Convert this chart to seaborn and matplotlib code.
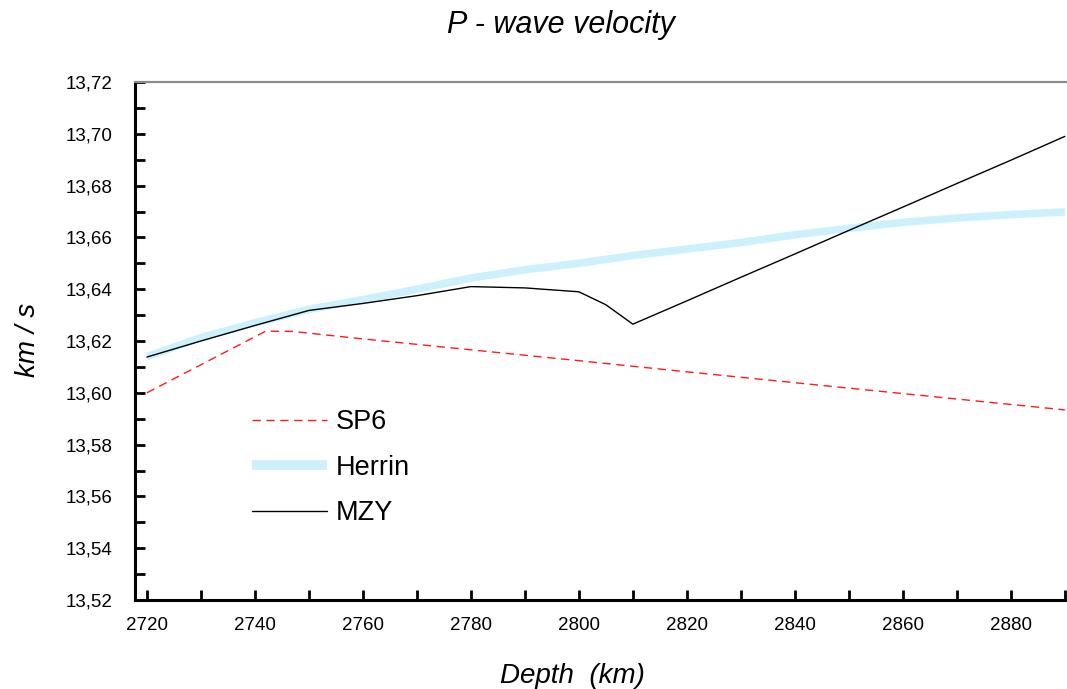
"""P-wave velocity near the core-mantle boundary."""

import matplotlib

matplotlib.use("Agg")

import matplotlib.pyplot as plt
import pandas as pd
import seaborn as sns
from matplotlib.ticker import FuncFormatter, MultipleLocator

# depth (km) and velocity (km/s)
sp6_depth = [2720, 2742, 2747, 2760, 2780, 2800, 2820, 2840, 2860, 2880, 2890]
sp6_vel = [13.600, 13.6238, 13.6237, 13.6208, 13.6166, 13.6124, 13.6081,
           13.6039, 13.5997, 13.5955, 13.5934]

herrin_depth = [2720, 2730, 2740, 2750, 2760, 2770, 2780, 2790, 2800, 2810, 2820,
                2830, 2840, 2850, 2860, 2870, 2880, 2890]
herrin_vel = [13.614, 13.6213, 13.627, 13.6322, 13.636, 13.640, 13.6443, 13.6475,
              13.650, 13.653, 13.6555, 13.658, 13.661, 13.6635, 13.6658, 13.6675,
              13.6688, 13.6698]

mzy_depth = [2720, 2730, 2740, 2750, 2760, 2770, 2780, 2790, 2800, 2805, 2810, 2820,
             2830, 2840, 2850, 2860, 2870, 2880, 2890]
mzy_vel = [13.6138, 13.620, 13.626, 13.6318, 13.6345, 13.6375, 13.641, 13.6405,
           13.639, 13.634, 13.6265, 13.6355, 13.6446, 13.6536, 13.6627, 13.6717,
           13.6808, 13.6898, 13.6990]

x_ticks = [2720, 2740, 2760, 2780, 2800, 2820, 2840, 2860, 2880]

sns.set_style("ticks")
plt.rcParams["font.family"] = ["Liberation Sans", "DejaVu Sans"]
plt.rcParams["text.color"] = "black"

fig = plt.figure(figsize=(10.67, 6.89), dpi=100)
ax = fig.add_axes([135 / 1067, 1 - 600 / 689, 1 - 135 / 1067, (600 - 82) / 689])

sp6 = pd.DataFrame({"depth": sp6_depth, "vel": sp6_vel})
herrin = pd.DataFrame({"depth": herrin_depth, "vel": herrin_vel})
mzy = pd.DataFrame({"depth": mzy_depth, "vel": mzy_vel})

sns.lineplot(data=sp6, x="depth", y="vel", color="#ff1a1a", linewidth=1.0,
             ax=ax, label="SP6")
ax.lines[-1].set_dashes([6, 4])
sns.lineplot(data=herrin, x="depth", y="vel", color="#cdf1fc", linewidth=5.5,
             ax=ax, label="Herrin", solid_capstyle="butt")
sns.lineplot(data=mzy, x="depth", y="vel", color="black", linewidth=1.0,
             ax=ax, label="MZY")

ax.set_xlim(2717.8, 2890.4)
ax.set_ylim(13.52, 13.72)
ax.xaxis.set_major_locator(MultipleLocator(20))
ax.xaxis.set_minor_locator(MultipleLocator(10))
ax.yaxis.set_major_locator(MultipleLocator(0.02))
ax.yaxis.set_minor_locator(MultipleLocator(0.01))
ax.set_xticks(x_ticks)
ax.yaxis.set_major_formatter(FuncFormatter(lambda v, _: f"{v:.2f}".replace(".", ",")))
ax.tick_params(axis="both", which="both", direction="in", length=7, width=2,
               labelsize=13.5, color="black", labelcolor="black")
ax.tick_params(axis="x", pad=12)
ax.tick_params(axis="y", pad=16)

for side in ["left", "bottom"]:
    ax.spines[side].set_linewidth(2.2)
    ax.spines[side].set_color("black")
ax.spines["top"].set_visible(True)
ax.spines["top"].set_color("#8c8c8c")
ax.spines["top"].set_linewidth(1.6)
ax.spines["right"].set_visible(False)

ax.set_xlabel("")
ax.set_ylabel("")
fig.text(561 / 1067, 1 - 25 / 689, "P - wave velocity", ha="center", va="center",
         fontsize=22, style="italic")
fig.text(572 / 1067, 1 - 676 / 689, "Depth  (km)", ha="center", va="center",
         fontsize=20, style="italic")
fig.text(28 / 1067, 1 - 340 / 689, "km / s", ha="center", va="center",
         fontsize=20, style="italic", rotation=90)

leg = ax.legend(loc="upper left", bbox_to_anchor=(0.099, 0.415), frameon=False,
                fontsize=19.5, handlelength=2.8, handletextpad=0.3, labelspacing=0.72)
leg.get_lines()[1].set_linewidth(7)
leg.get_lines()[1].set_solid_capstyle("butt")

fig.savefig("out.png", dpi=100)
plt.close(fig)
